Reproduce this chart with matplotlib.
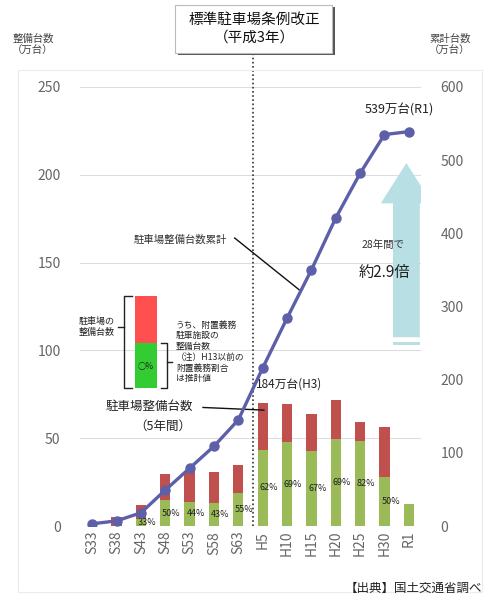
import matplotlib
matplotlib.use('Agg')
import matplotlib.pyplot as plt
from matplotlib.patches import Rectangle, FancyArrow

plt.rcParams['font.family'] = ['Noto Sans CJK JP', 'DejaVu Sans']

# data
periods = ["S33", "S38", "S43", "S48", "S53", "S58", "S63",
           "H5", "H10", "H15", "H20", "H25", "H30", "R1"]
# spaces built in each 5-year period (万台): attached-obligation part / other part
built_fuchi = [0, 0, 4, 14.8, 13.9, 13.1, 19.0, 43.4, 47.8, 42.6, 49.5, 48.6, 28.1, 12.3]
built_other = [0, 5, 8, 14.7, 17.6, 17.4, 15.5, 26.6, 21.5, 21.0, 22.3, 10.4, 28.5, 0]
# cumulative spaces (万台)
cumulative = [3, 7, 18, 49, 79, 109, 145, 216, 284, 350, 421, 482, 535, 539]
h3_total = 184
revision_pos = 6.6   # H3 between S63 and H5

W, H = 484, 600
fig = plt.figure(figsize=(W / 100, H / 100), dpi=100)


def fx(px):
    return px / W


def fy(py):
    return 1 - py / H


# faint frame around the chart area
fig.patches.append(Rectangle((fx(18), fy(592)), fx(464), 522 / H, transform=fig.transFigure,
                             fill=False, edgecolor='#ececec', lw=0.8))

ax = fig.add_axes([fx(80), fy(526), fx(341), 439 / H])
ax2 = ax.twinx()

x = range(len(periods))
ax.bar(x, built_fuchi, width=0.42, color='#9bbb59', zorder=2)
ax.bar(x, built_other, width=0.42, bottom=built_fuchi, color='#c0504d', zorder=2)

for i, (g, r) in enumerate(zip(built_fuchi, built_other)):
    if g > 0 and r > 0:
        pct = round(100 * g / (g + r))
        ax.text(i + 0.25, g / 2, f"{pct}%", ha='center', va='center', fontsize=6.5,
                color='#222222', zorder=4)

ax.set_xlim(-0.5, len(periods) - 0.5)
ax.set_ylim(0, 250)
ax.set_yticks(range(0, 251, 50))
ax.grid(axis='y', color='#dddddd', lw=0.8, zorder=0)
ax.set_axisbelow(True)
ax.set_xticks(list(x))
ax.set_xticklabels(periods, rotation=90, fontsize=10, color='#555555')
ax.tick_params(axis='both', length=0, colors='#666666', labelsize=10)
ax.tick_params(axis='y', pad=14)
for s in ax.spines.values():
    s.set_visible(False)

ax2.set_ylim(0, 600)
ax2.set_yticks(range(0, 601, 100))
ax2.tick_params(axis='y', length=0, colors='#666666', labelsize=10, pad=14)
for s in ax2.spines.values():
    s.set_visible(False)

ax2.plot(x, cumulative, color='#5d5fa9', lw=2.4, marker='o', ms=6.5, zorder=5)

# growth arrow H3 -> R1
ax2.add_patch(FancyArrow(12.9, 258, 0, 238, width=1.1, head_width=2.1, head_length=55,
                         length_includes_head=True, color='#b7dfe4', lw=0, zorder=1))
ax2.add_patch(Rectangle((12.35, 247), 1.1, 4, color='#b7dfe4', lw=0, zorder=1))
ax2.text(11.95, 384, "28年間で", ha='center', va='center', fontsize=7.5, color='#333333')
ax2.text(12.0, 347, f"約{cumulative[-1] / h3_total:.1f}倍", ha='center', va='center',
         fontsize=11, color='#222222')
ax2.text(12.6, 568, f"{cumulative[-1]}万台(R1)", ha='center', va='center', fontsize=9,
         color='#222222')
ax.text(6.72, 81, f"{h3_total}万台(H3)", ha='left', va='center', fontsize=8.5,
        color='#222222', zorder=7)

# revision year marker
ax.vlines(revision_pos, 0, 269, colors='#333333', linestyles=(0, (1, 1.5)), lw=1.2,
          clip_on=False, zorder=6)

# leaders
ax.text(5.55, 163, "駐車場整備台数累計", ha='right', va='center', fontsize=7.5, color='#333333')
ax.plot([5.85, 8.5], [164, 134.5], color='#111111', lw=1, zorder=6)
ax.text(4.15, 68, "駐車場整備台数", ha='right', va='center', fontsize=9, color='#222222')
ax.text(4.05, 57, "（5年間）", ha='right', va='center', fontsize=9, color='#222222')
ax.plot([4.55, 7.05], [67.5, 66], color='#111111', lw=1, zorder=6)

# legend block
fig.patches.append(Rectangle((fx(135), fy(343)), fx(22), 47 / H, transform=fig.transFigure,
                             color='#ff5050', lw=0))
fig.patches.append(Rectangle((fx(135), fy(388)), fx(22), 45 / H, transform=fig.transFigure,
                             color='#33cc33', lw=0))
fig.text(fx(146), fy(366), "○%", ha='center', va='center', fontsize=6, color='#222222')
fig.lines.append(plt.Line2D([fx(132), fx(124), fx(124), fx(132)],
                            [fy(296), fy(296), fy(388), fy(388)],
                            transform=fig.transFigure, color='#222222', lw=1))
fig.lines.append(plt.Line2D([fx(124), fx(118)], [fy(327), fy(327)],
                            transform=fig.transFigure, color='#222222', lw=1))
fig.lines.append(plt.Line2D([fx(161), fx(167), fx(167), fx(161)],
                            [fy(343), fy(343), fy(388), fy(388)],
                            transform=fig.transFigure, color='#222222', lw=1))
fig.lines.append(plt.Line2D([fx(167), fx(172)], [fy(362), fy(362)],
                            transform=fig.transFigure, color='#222222', lw=1))
fig.text(fx(97), fy(327), "駐車場の\n整備台数", ha='center', va='center', fontsize=6.5,
         color='#222222', linespacing=1.3)
fig.text(fx(176), fy(352), "うち、附置義務\n駐車施設の\n整備台数\n（注）H13以前の\n附置義務割合\nは推計値",
         ha='left', va='center', fontsize=6.3, color='#222222', linespacing=1.25)

# title box
fig.patches.append(Rectangle((fx(178), fy(55)), fx(157), 48 / H, transform=fig.transFigure,
                             color='#555555', lw=0))
fig.patches.append(Rectangle((fx(175), fy(53)), fx(157), 48 / H, transform=fig.transFigure,
                             facecolor='white', edgecolor='#bbbbbb', lw=0.8))
fig.text(fx(254), fy(29), "標準駐車場条例改正\n（平成3年）", ha='center', va='center',
         fontsize=10.5, color='#111111', linespacing=1.3)

# axis captions
fig.text(fx(33), fy(45), "整備台数\n（万台）", ha='center', va='center', fontsize=7.5,
         color='#444444', linespacing=1.3)
fig.text(fx(450), fy(45), "累計台数\n（万台）", ha='center', va='center', fontsize=7.5,
         color='#444444', linespacing=1.3)

fig.text(fx(482), fy(588), "【出典】国土交通省調べ", ha='right', va='center', fontsize=9,
         color='#222222')

fig.savefig("out.png", dpi=100)
